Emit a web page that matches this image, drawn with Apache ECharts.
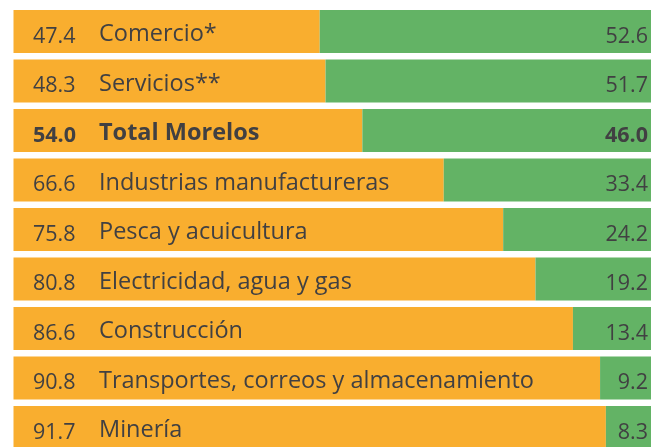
<!DOCTYPE html>
<html>
<head>
<meta charset="utf-8">
<script src="https://cdn.jsdelivr.net/npm/echarts@6/dist/echarts.min.js"></script>
<style>
  html, body { margin: 0; padding: 0; background: #fff; }
  #main { width: 651px; height: 447px; }
</style>
</head>
<body>
<div id="main"></div>
<script>
// datos
var categories = ['Comercio*', 'Servicios**', 'Total Morelos', 'Industrias manufactureras',
  'Pesca y acuicultura', 'Electricidad, agua y gas', 'Construcción',
  'Transportes, correos y almacenamiento', 'Minería'];
var orangeValues = [47.4, 48.3, 54.0, 66.6, 75.8, 80.8, 86.6, 90.8, 91.7];
var greenValues = [52.6, 51.7, 46.0, 33.4, 24.2, 19.2, 13.4, 9.2, 8.3];
var boldName = 'Total Morelos';

var textColor = '#414042';
var font = 'Open Sans';

var chart = echarts.init(document.getElementById('main'));
var option = {
  animation: false,
  // bars run past the right and bottom edges of the picture
  grid: { left: 13.5, right: -8.5, top: 6.75, bottom: -5.25, containLabel: false, outerBoundsMode: 'none' },
  xAxis: { type: 'value', min: 0, max: 100, show: false },
  yAxis: { type: 'category', data: categories, inverse: true, show: false },
  series: [
    {
      type: 'bar',
      stack: 'total',
      barWidth: 43,
      clip: false,
      data: orangeValues,
      itemStyle: { color: '#F9AE2F' },
      label: {
        show: true,
        position: 'insideLeft',
        distance: 19.5,
        offset: [0, 3],
        formatter: function (p) {
          var v = p.value.toFixed(1);
          if (p.name === boldName) return '{ab|' + v + '}{bb|' + p.name + '}';
          return '{a|' + v + '}{b|' + p.name + '}';
        },
        rich: {
          a: { width: 66, fontSize: 21.5, fontFamily: font, color: textColor, padding: [4, 0, 0, 0] },
          b: { fontSize: 23.5, fontFamily: font, color: textColor },
          ab: { width: 66, fontSize: 21.5, fontFamily: font, fontWeight: 'bold', color: textColor, padding: [4, 0, 0, 0] },
          bb: { fontSize: 23.5, fontFamily: font, fontWeight: 'bold', color: textColor }
        }
      }
    },
    {
      type: 'bar',
      stack: 'total',
      barWidth: 43,
      clip: false,
      data: greenValues,
      itemStyle: { color: '#63B365' },
      label: {
        show: true,
        position: 'insideRight',
        distance: 11.5,
        offset: [0, 5],
        fontSize: 21.5,
        fontFamily: font,
        color: textColor,
        formatter: function (p) {
          var v = p.value.toFixed(1);
          if (p.name === boldName) return '{bb|' + v + '}';
          return v;
        },
        rich: {
          bb: { fontSize: 21.5, fontFamily: font, fontWeight: 'bold', color: textColor }
        }
      }
    }
  ]
};
chart.setOption(option);
</script>
</body>
</html>
